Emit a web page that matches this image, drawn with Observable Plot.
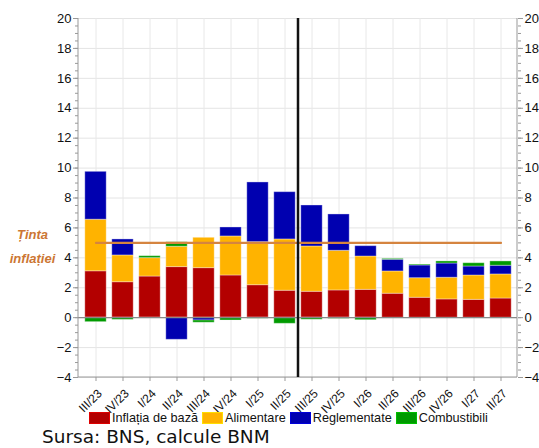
<!DOCTYPE html>
<html>
<head>
<meta charset="utf-8">
<script src="https://cdn.jsdelivr.net/npm/d3@7"></script>
<script src="https://cdn.jsdelivr.net/npm/@observablehq/plot@0.6"></script>
<style>
  body { margin: 0; background: #fff; font-family: "Liberation Sans", Arial, sans-serif; }
  #wrap { position: relative; width: 539px; height: 448px; }
  #legend { position: absolute; left: 89px; top: 411px; display: flex; align-items: center; font-size: 12.7px; color: #111; }
  .item { display: flex; align-items: center; margin-right: 4px; }
  .sw { width: 21px; height: 12px; margin-right: 2px; box-sizing: border-box; }
  #caption { position: absolute; left: 42px; top: 426px; font-family: "DejaVu Sans", sans-serif; font-size: 18.5px; color: #111; white-space: nowrap; }
</style>
</head>
<body>
<div id="wrap">
  <div id="chart"></div>
  <div id="legend"></div>
  <div id="caption">Sursa: BNS, calcule BNM</div>
</div>
<script>
const quarters = ["III/23","IV/23","I/24","II/24","III/24","IV/24","I/25","II/25","III/25","IV/25","I/26","II/26","III/26","IV/26","I/27","II/27"];
const components = ["Inflația de bază", "Alimentare", "Reglementate", "Combustibili"];
const colors = ["#b30000", "#ffb300", "#0000b0", "#009a00"];
const baseInflation = [3.10, 2.37, 2.75, 3.38, 3.31, 2.82, 2.17, 1.80, 1.73, 1.82, 1.86, 1.60, 1.33, 1.22, 1.19, 1.28];
const food          = [3.45, 1.79, 1.23, 1.36, 2.03, 2.61, 2.88, 3.43, 3.03, 2.65, 2.23, 1.49, 1.31, 1.45, 1.63, 1.61];
const regulated     = [3.20, 1.07, -0.05, -1.48, -0.19, 0.60, 3.99, 3.16, 2.74, 2.43, 0.69, 0.78, 0.85, 0.95, 0.60, 0.58];
const fuel          = [-0.30, -0.15, 0.13, 0.30, -0.15, -0.19, -0.07, -0.41, -0.14, -0.08, -0.17, 0.06, 0.06, 0.14, 0.22, 0.29];
const target = 5;
const splitAt = "III/25";
const yTicks = [-4, -2, 0, 2, 4, 6, 8, 10, 12, 14, 16, 18, 20];

const series = [baseInflation, food, regulated, fuel];
const rows = [];
quarters.forEach((q, i) => {
  components.forEach((c, j) => rows.push({q, comp: c, v: series[j][i]}));
});
const targetRows = quarters.map(q => ({q, v: target}));

const minorTicks = d3.range(yTicks[0], yTicks[yTicks.length - 1] + 0.001, 0.5);

function frameLines(index, scales, values, dims) {
  const g = d3.create("svg:g");
  const l = dims.marginLeft, r = dims.width - dims.marginRight;
  const t = dims.marginTop, b = dims.height - dims.marginBottom;
  g.append("line").attr("x1", l).attr("x2", l).attr("y1", t).attr("y2", b).attr("stroke", "#999");
  g.append("line").attr("x1", r).attr("x2", r).attr("y1", t).attr("y2", b).attr("stroke", "#999");
  g.append("line").attr("x1", l).attr("x2", r).attr("y1", b).attr("y2", b).attr("stroke", "#999");
  return g.node();
}

function splitLine(index, scales, values, dims) {
  const x = scales.x(splitAt);
  const g = d3.create("svg:g");
  g.append("line").attr("x1", x).attr("x2", x)
    .attr("y1", dims.marginTop).attr("y2", dims.height - dims.marginBottom)
    .attr("stroke", "#111").attr("stroke-width", 2.5);
  return g.node();
}

const chart = Plot.plot({
  width: 539,
  height: 406,
  marginTop: 18,
  marginBottom: 29,
  marginLeft: 78,
  marginRight: 22,
  style: { fontFamily: "Liberation Sans, Arial, sans-serif", fontSize: "13px", color: "#111", background: "#fff", overflow: "visible" },
  x: { domain: quarters, padding: 0, label: null },
  y: { domain: [-4, 20], label: null },
  color: { domain: components, range: colors },
  marks: [
    Plot.gridY(yTicks, { stroke: "#e4e4e4", strokeOpacity: 1 }),
    Plot.gridX(quarters, { stroke: "#e8e8e8", strokeOpacity: 1 }),
    Plot.barY(rows, { x: "q", y: "v", fill: "comp", insetLeft: 2.8, insetRight: 2.8, stroke: "#ffffff", strokeOpacity: 0.35, strokeWidth: 1 }),
    Plot.ruleY([0], { stroke: "#888", strokeWidth: 1.2 }),
    Plot.lineY(targetRows, { x: "q", y: "v", stroke: "#d5843f", strokeWidth: 2.2 }),
    Plot.text([target], { y: d => d, text: () => "Ținta\ninflației", frameAnchor: "left", dx: -46, textAnchor: "middle", lineHeight: 1.85, fill: "#cc7633", fontWeight: "bold", fontStyle: "italic", fontSize: 13 }),
    frameLines,
    splitLine,
    Plot.axisY(minorTicks, { anchor: "left", tickSize: 3, text: null, stroke: "#999" }),
    Plot.axisY(minorTicks, { anchor: "right", tickSize: 3, text: null, stroke: "#999" }),
    Plot.axisY(yTicks, { anchor: "left", tickSize: 5, tickPadding: 2, stroke: "#999", fill: "#111", fontSize: 13 }),
    Plot.axisY(yTicks, { anchor: "right", tickSize: 5, tickPadding: 2, stroke: "#999", fill: "#111", fontSize: 13 }),
    Plot.axisX(quarters, { tickSize: 4, text: null, stroke: "#999" }),
    Plot.axisX(quarters, { tickSize: 0, tickPadding: 14, dx: 4, tickRotate: -45, fill: "#111", fontSize: 12 })
  ]
});
document.getElementById("chart").appendChild(chart);

const legend = document.getElementById("legend");
components.forEach((c, i) => {
  const it = document.createElement("div");
  it.className = "item";
  const sw = document.createElement("div");
  sw.className = "sw";
  sw.style.background = colors[i];
  sw.style.border = "1px solid " + d3.color(colors[i]).brighter(0.6);
  const tx = document.createElement("span");
  tx.textContent = c;
  it.appendChild(sw);
  it.appendChild(tx);
  legend.appendChild(it);
});
</script>
</body>
</html>
